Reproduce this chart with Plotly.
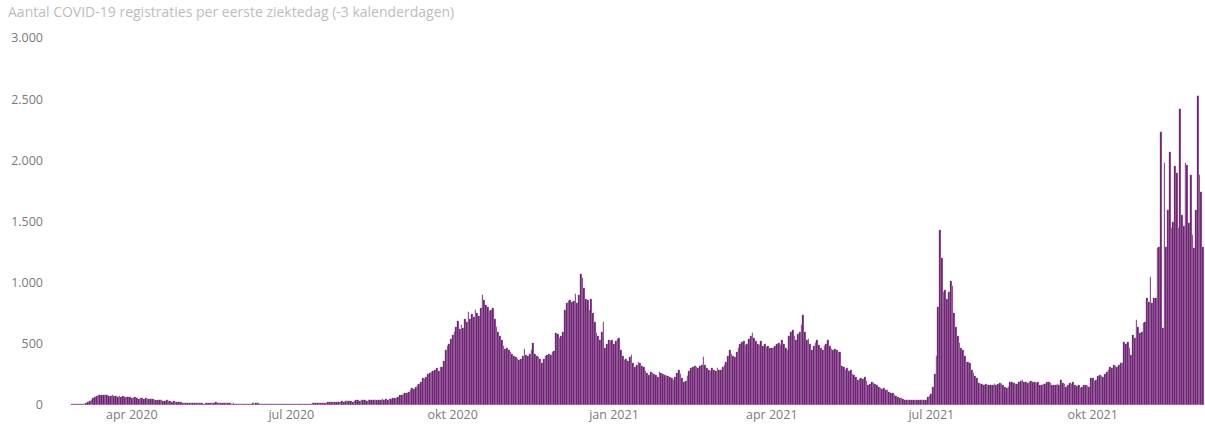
import pandas as pd
import plotly.graph_objects as go

COLORS = {
    "bar": "#6A1B6F",
    "title": "#BDBDBD",
    "tick": "#7A7A7A",
    "bg": "#FFFFFF",
}

START_DATE = "2020-02-16"

# daily registrations per first day of illness, month by month
feb_2020 = [0, 1, 0, 1, 0, 1, 1, 2, 1, 2, 3, 6, 10, 12]
mar_2020 = [8, 5, 6, 8, 10, 15, 25, 35, 45, 55, 65, 72, 78, 80, 85, 82, 78, 80, 75, 72,
            78, 70, 74, 68, 72, 65, 70, 66, 62, 68, 64]
apr_2020 = [60, 58, 62, 55, 52, 58, 54, 50, 56, 52, 48, 50, 46, 44, 42, 45, 40, 38, 36, 34,
            38, 32, 30, 28, 30, 26, 24, 26, 22, 20]
may_2020 = [18, 20, 17, 16, 18, 15, 14, 16, 13, 15, 14, 12, 13, 15, 18, 16, 20, 18, 22, 19,
            17, 20, 18, 16, 15, 17, 14, 12, 13, 11, 12]
jun_2020 = [10, 12, 11, 9, 10, 12, 11, 10, 13, 12, 14, 13, 11, 12, 10, 11, 9, 10, 8, 9,
            10, 8, 7, 8, 9, 7, 8, 6, 7, 6]
jul_2020 = [6, 5, 7, 6, 8, 7, 6, 9, 8, 10, 12, 11, 14, 13, 15, 14, 16, 18, 17, 20,
            19, 22, 21, 24, 23, 26, 25, 28, 27, 30, 28]
aug_2020 = [30, 32, 35, 30, 28, 35, 38, 40, 36, 42, 40, 38, 36, 42, 44, 40, 38, 42, 45, 40,
            44, 46, 42, 48, 45, 50, 52, 55, 58, 60, 65]
sep_2020 = [80, 85, 90, 100, 95, 110, 120, 140, 130, 150, 160, 170, 190, 220, 210, 230, 250, 260, 270, 280,
            290, 300, 280, 310, 310, 360, 450, 480, 500, 540]
oct_2020 = [570, 600, 640, 690, 620, 650, 630, 700, 680, 760, 700, 740, 720, 780, 750, 730, 790, 900, 860, 820,
            800, 770, 780, 790, 700, 640, 600, 560, 530, 480, 460]
nov_2020 = [470, 450, 430, 420, 400, 390, 380, 370, 380, 400, 460, 410, 400, 420, 450, 505, 420, 400, 390, 380,
            340, 380, 400, 410, 420, 410, 430, 440, 590, 580]
dec_2020 = [550, 560, 600, 780, 830, 850, 860, 840, 850, 910, 830, 900, 1070, 1040, 960, 870, 860, 780, 870, 750,
            680, 590, 560, 530, 600, 680, 470, 500, 530, 520, 530]
jan_2021 = [500, 520, 540, 545, 450, 400, 370, 380, 360, 390, 410, 340, 310, 330, 350, 340, 320, 310, 280, 260,
            245, 270, 260, 250, 245, 230, 270, 260, 250, 245, 235]
feb_2021 = [240, 230, 220, 205, 230, 260, 285, 250, 220, 190, 200, 240, 280, 300, 310, 320, 310, 300, 320, 330,
            390, 330, 300, 285, 280, 300, 290, 280]
mar_2021 = [300, 290, 285, 310, 330, 350, 400, 450, 420, 400, 390, 430, 470, 500, 515, 520, 490, 500, 540, 560,
            590, 550, 520, 500, 490, 520, 480, 500, 475, 480, 470]
apr_2021 = [470, 465, 480, 500, 510, 490, 530, 500, 470, 450, 560, 600, 610, 560, 530, 580, 600, 650, 735, 600,
            530, 540, 500, 450, 480, 510, 530, 490, 470, 450]
may_2021 = [480, 500, 530, 480, 460, 450, 460, 450, 430, 435, 320, 310, 285, 300, 280, 290, 250, 245, 230, 205,
            215, 220, 210, 230, 200, 165, 175, 190, 180, 170, 160]
jun_2021 = [150, 140, 130, 135, 125, 120, 110, 100, 95, 80, 75, 65, 60, 55, 50, 45, 40, 42, 45, 45,
            42, 40, 38, 40, 42, 40, 40, 45, 65, 70]
jul_2021 = [90, 150, 250, 400, 800, 1430, 1200, 920, 940, 870, 920, 1010, 970, 750, 640, 560, 505, 470, 450, 400,
            355, 350, 340, 290, 260, 240, 220, 180, 175, 170, 165]
aug_2021 = [170, 165, 160, 165, 165, 170, 160, 175, 180, 170, 165, 150, 140, 145, 190, 185, 180, 175, 170, 185,
            195, 205, 190, 185, 180, 190, 195, 185, 190, 180, 185]
sep_2021 = [165, 160, 170, 175, 190, 185, 180, 165, 160, 165, 170, 165, 205, 180, 175, 150, 165, 180, 170, 190,
            165, 155, 160, 140, 150, 165, 160, 155, 150, 220]
oct_2021 = [220, 200, 205, 240, 245, 235, 230, 250, 270, 290, 310, 300, 330, 320, 310, 330, 340, 340, 515, 500,
            515, 465, 410, 570, 545, 695, 640, 590, 600, 670, 680]
nov_2021 = [875, 840, 1045, 830, 875, 875, 1280, 1290, 2230, 630, 1980, 1290, 1590, 2070, 1450, 1500, 1950, 1900, 1450, 2420,
            1550, 1460, 1980, 1960, 1490, 1880, 1390, 1280, 1590, 2530]
dec_2021 = [1880, 1740, 1290]

tick_dates = ["2020-04-01", "2020-07-01", "2020-10-01", "2021-01-01", "2021-04-01", "2021-07-01", "2021-10-01"]
tick_labels = ["apr 2020", "jul 2020", "okt 2020", "jan 2021", "apr 2021", "jul 2021", "okt 2021"]
y_ticks = [0, 500, 1000, 1500, 2000, 2500, 3000]

values = (feb_2020 + mar_2020 + apr_2020 + may_2020 + jun_2020 + jul_2020 + aug_2020 + sep_2020
          + oct_2020 + nov_2020 + dec_2020 + jan_2021 + feb_2021 + mar_2021 + apr_2021 + may_2021
          + jun_2021 + jul_2021 + aug_2021 + sep_2021 + oct_2021 + nov_2021 + dec_2021)
dates = pd.date_range(START_DATE, periods=len(values), freq="D")

fig = go.Figure(
    go.Bar(
        x=dates,
        y=values,
        # faint white edges give the lightly striped look of the original bars
        marker=dict(color=COLORS["bar"], line=dict(color="rgba(255,255,255,0.45)", width=0.3)),
        hovertemplate="%{x|%d %b %Y}: %{y}<extra></extra>",
    )
)

fig.update_layout(
    title=dict(
        text="Aantal COVID-19 registraties per eerste ziektedag (-3 kalenderdagen)",
        font=dict(family="Open Sans", size=14, color=COLORS["title"]),
        x=8 / 1205, xanchor="left", xref="container",
        y=0.972, yanchor="middle",
    ),
    separators=",.",
    bargap=0,
    plot_bgcolor=COLORS["bg"],
    paper_bgcolor=COLORS["bg"],
    font=dict(family="Open Sans", size=12.5, color=COLORS["tick"]),
    xaxis=dict(
        range=[dates[0] - pd.Timedelta(hours=12), dates[-1] + pd.Timedelta(hours=12)],
        tickvals=tick_dates,
        ticktext=tick_labels,
        showgrid=False,
        zeroline=False,
        showline=False,
        ticks="",
    ),
    yaxis=dict(
        range=[0, 3000],
        tickvals=y_ticks,
        tickformat=",d",
        showgrid=False,
        zeroline=False,
        showline=False,
        ticks="",
        ticklabelstandoff=8,
    ),
    showlegend=False,
    margin=dict(l=52, r=1, t=38, b=23),
    width=1205,
    height=428,
)

# page body has a default 8px margin; drop it so the chart sits at the window origin
fig.write_html(
    "out.html",
    config={"displayModeBar": False},
    post_script="document.body.style.margin='0';",
)
